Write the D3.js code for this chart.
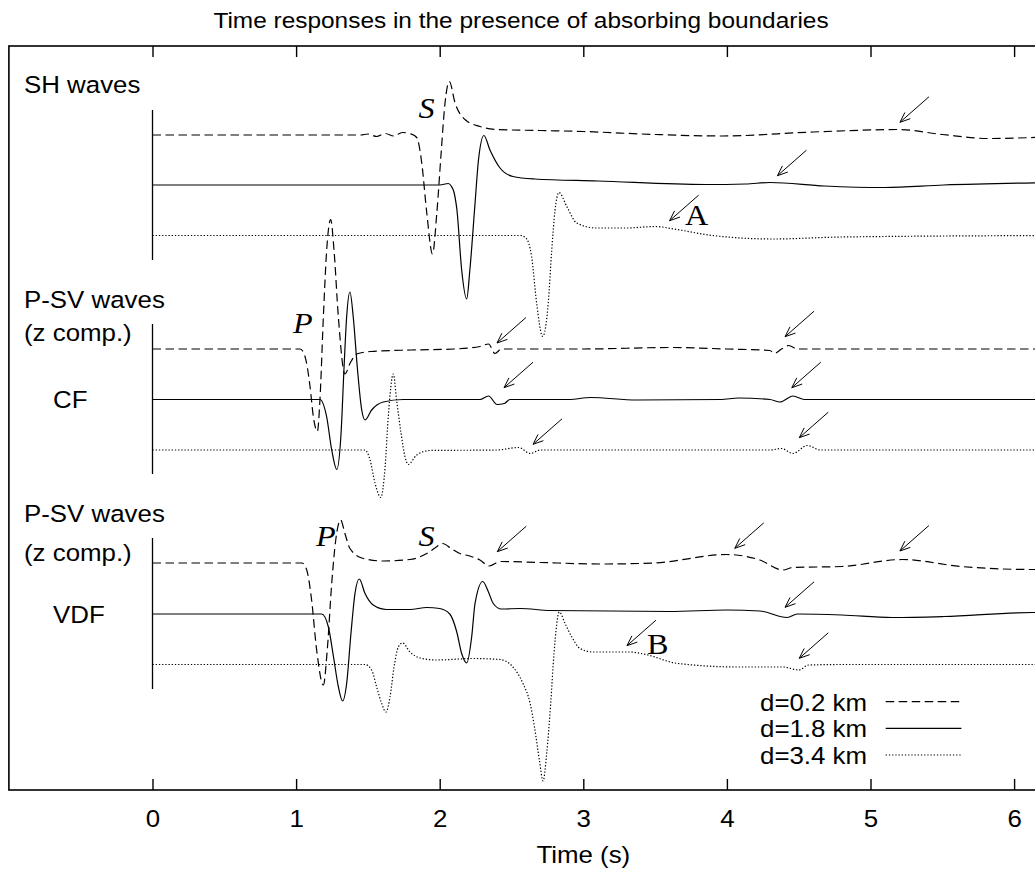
<!DOCTYPE html>
<html><head><meta charset="utf-8">
<script src="https://cdn.jsdelivr.net/npm/d3@7"></script>
<style>body{margin:0;background:#fff}svg{display:block}</style>
</head><body>
<svg id="chart" width="1035" height="873"></svg>
<script>
// ---------------- data ----------------
const chartTitle = "Time responses in the presence of absorbing boundaries";
const xAxisTitle = "Time (s)";
const tickValues = [0, 1, 2, 3, 4, 5, 6];
const seriesLabels = ["d=0.2 km", "d=1.8 km", "d=3.4 km"];

// baseline offsets of the traces (trace units) : [d=0.2, d=1.8, d=3.4]
const shOffsets  = [13.1, 12.1, 11.09];
const cfOffsets  = [8.82, 7.81, 6.8];
const vdfOffsets = [4.54, 3.52, 2.51];

// SH waves  [time (s), amplitude]
const shD02 = [[0,0],[1.45,0],[1.5,0.02],[1.56,-0.03],[1.62,0.03],[1.68,-0.02],[1.74,0.05],[1.8,0.02],[1.84,-0.05],[1.875,-0.56],[1.91,-1.56],[1.95,-2.38],[1.98,-1.56],[2.01,-0.36],[2.037,0.64],[2.067,1.07],[2.107,0.64],[2.18,0.3],[2.28,0.17],[2.4,0.11],[2.7,0.09],[3.0,0.07],[3.5,0.01],[3.97,-0.02],[4.6,0.06],[5.2,0.11],[5.5,0.01],[5.82,-0.07],[6.3,-0.03]];
const shD18 = [[0,0],[2.0,0],[2.06,0.03],[2.08,-0.02],[2.1,-0.15],[2.12,-0.5],[2.153,-1.7],[2.188,-2.28],[2.21,-1.7],[2.246,-0.37],[2.27,0.5],[2.308,0.99],[2.35,0.7],[2.42,0.34],[2.51,0.17],[2.66,0.12],[3.1,0.08],[3.85,0.01],[4.13,0.02],[4.3,0.05],[4.68,-0.02],[5.1,-0.05],[5.51,0.0],[6.3,0.05]];
const shD34 = [[0,0],[2.56,0],[2.6,-0.05],[2.64,-0.42],[2.675,-1.35],[2.717,-2.02],[2.756,-1.35],[2.78,-0.3],[2.803,0.5],[2.83,0.86],[2.885,0.58],[2.954,0.25],[3.09,0.15],[3.3,0.15],[3.5,0.18],[3.65,0.12],[3.9,0.0],[4.32,-0.07],[4.8,-0.03],[6.3,0]];

// P-SV waves, CF
const cfD02 = [[0,0],[1.028,0],[1.062,-0.15],[1.097,-0.75],[1.12,-1.35],[1.148,-1.65],[1.166,-1.02],[1.19,0.65],[1.213,1.98],[1.241,2.59],[1.264,1.98],[1.294,0.65],[1.34,-0.5],[1.375,-0.29],[1.422,-0.1],[1.52,-0.05],[1.8,-0.02],[2.1,0.0],[2.28,0.05],[2.34,0.1],[2.385,-0.09],[2.43,0.0],[3.0,0.0],[3.6,0.03],[4.0,0.0],[4.3,-0.03],[4.33,-0.09],[4.38,0.0],[4.43,0.07],[4.49,0.0],[6.3,0]];
const cfD18 = [[0,0],[1.166,0],[1.213,-0.35],[1.248,-1.01],[1.283,-1.4],[1.313,-0.68],[1.334,0.65],[1.352,1.65],[1.375,2.15],[1.398,1.65],[1.426,0.65],[1.457,-0.21],[1.48,-0.41],[1.526,-0.21],[1.607,-0.05],[1.746,0],[2.28,0],[2.34,0.07],[2.4,-0.1],[2.45,-0.08],[2.49,0],[2.9,0.0],[3.05,0.04],[3.37,-0.01],[3.96,0],[4.08,0.03],[4.3,0.0],[4.37,-0.05],[4.46,0.07],[4.54,0],[6.3,0]];
const cfD34 = [[0,0],[1.48,0],[1.515,-0.2],[1.55,-0.67],[1.59,-0.95],[1.62,-0.33],[1.642,0.67],[1.677,1.52],[1.70,1.0],[1.731,0.33],[1.758,-0.13],[1.781,-0.29],[1.84,-0.1],[1.93,-0.01],[2.4,0],[2.55,0.05],[2.63,-0.07],[2.7,0],[4.3,0.0],[4.38,0.03],[4.46,-0.07],[4.56,0.09],[4.65,0],[6.3,0]];

// P-SV waves, VDF
const vdfD02 = [[0,0],[1.04,0],[1.074,-0.14],[1.108,-0.74],[1.143,-1.74],[1.19,-2.44],[1.217,-1.74],[1.248,-0.41],[1.276,0.46],[1.31,0.86],[1.34,0.59],[1.375,0.29],[1.468,0.09],[1.607,0.04],[1.793,0.07],[1.91,0.19],[1.967,0.3],[2.02,0.39],[2.08,0.29],[2.14,0.19],[2.21,0.14],[2.28,0.06],[2.345,-0.06],[2.42,0.03],[2.7,0.01],[3.13,-0.02],[3.49,0],[4.0,0.17],[4.23,0.06],[4.39,-0.14],[4.46,-0.09],[4.8,-0.07],[5.22,0.07],[5.63,-0.07],[6.13,-0.13],[6.3,-0.13]];
const vdfD18 = [[0,0],[1.178,0],[1.224,-0.25],[1.26,-0.85],[1.294,-1.45],[1.324,-1.74],[1.352,-1.39],[1.382,-0.39],[1.41,0.41],[1.44,0.7],[1.48,0.41],[1.537,0.18],[1.63,0.09],[1.793,0.09],[1.91,0.13],[2.0,0.11],[2.07,0.0],[2.118,-0.35],[2.153,-0.79],[2.188,-0.98],[2.223,-0.45],[2.246,0.21],[2.3,0.65],[2.338,0.45],[2.373,0.21],[2.43,0.1],[2.56,0.11],[2.77,0.07],[3.6,0.05],[4.0,0.08],[4.23,0.06],[4.42,-0.07],[4.49,0.0],[4.8,-0.02],[5.15,-0.07],[5.51,-0.05],[6.13,0.03],[6.3,0.03]];
const vdfD34 = [[0,0],[1.48,0],[1.526,-0.11],[1.561,-0.45],[1.596,-0.78],[1.626,-0.95],[1.654,-0.65],[1.682,-0.05],[1.712,0.35],[1.742,0.43],[1.793,0.25],[1.863,0.13],[1.98,0.09],[2.234,0.12],[2.42,0.1],[2.51,-0.05],[2.58,-0.38],[2.63,-0.78],[2.66,-1.25],[2.694,-1.91],[2.72,-2.33],[2.745,-1.78],[2.773,-0.78],[2.796,0.22],[2.833,1.05],[2.873,0.82],[2.92,0.55],[2.977,0.32],[3.07,0.25],[3.32,0.25],[3.42,0.21],[3.66,0.02],[4.08,-0.05],[4.39,-0.05],[4.5,-0.11],[4.57,-0.01],[4.8,0],[6.3,0]];

// group labels: [text, time, level]
const groupLabels = [["SH waves",-0.895,13.94],["P-SV waves",-0.895,9.64],["(z comp.)",-0.895,8.98],["CF",-0.693,7.64],["P-SV waves",-0.895,5.366],["(z comp.)",-0.895,4.58],["VDF",-0.693,3.34]];
// vertical zero-time bars: [top level, bottom level]
const zeroBars = [[13.6,10.6],[9.32,6.32],[5.04,2.02]];
// arrow tips: [time, level]
const arrowTips = [[5.205,13.354],[4.352,12.286],[3.601,11.386],[2.399,8.94],[4.405,9.066],[2.448,8.046],[4.452,8.046],[2.65,6.914],[4.504,7.046],[2.401,4.766],[4.055,4.834],[5.205,4.78],[4.405,3.654],[3.304,2.886],[4.504,2.634]];
// phase labels: [text, time, level, italic]
const phaseLabels = [["S",1.852,13.44,true],["P",0.978,9.14,true],["P",1.139,4.88,true],["S",1.852,4.88,true],["A",3.709,11.3,false],["B",3.443,2.72,false]];

// ---------------- drawing ----------------
const svg = d3.select("#chart");
const x = d3.scaleLinear().domain([-1, 7]).range([8.9, 8.9 + 8 * 143.6]);
const y = d3.scaleLinear().domain([0, 14.88]).range([790, 46]);
const SANS = "'Liberation Sans', Arial, Helvetica, sans-serif";
const SERIF = "'Liberation Serif', 'Times New Roman', Times, serif";
const STRETCH = 1.11;
const styles = [
  {dash: "8.5,4.5", width: 1.2},
  {dash: null, width: 1.2},
  {dash: "1.3,1.9", width: 1.2}
];

function stretchedText(g, txt, px, py, size, anchor, family, italic) {
  return g.append("text")
    .attr("transform", `translate(${px},${py}) scale(${STRETCH},1)`)
    .attr("text-anchor", anchor)
    .attr("font-family", family)
    .attr("font-size", size)
    .attr("font-style", italic ? "italic" : "normal")
    .attr("fill", "#000")
    .text(txt);
}

// frame
svg.append("rect")
  .attr("x", x(-1)).attr("y", y(14.88))
  .attr("width", x(7) - x(-1)).attr("height", y(0) - y(14.88))
  .attr("fill", "none").attr("stroke", "#000").attr("stroke-width", 1.6);

// axes (ticks inward)
const axB = svg.append("g").attr("transform", `translate(0,${y(0)})`)
  .call(d3.axisBottom(x).tickValues(tickValues).tickSize(-11).tickFormat(d3.format("d")));
axB.select(".domain").remove();
axB.selectAll(".tick line").attr("stroke", "#000").attr("stroke-width", 1.4);
axB.selectAll(".tick text")
  .attr("y", null).attr("dy", null)
  .attr("transform", `translate(0,36.7) scale(${STRETCH},1)`)
  .attr("font-family", SANS).attr("font-size", 23.3).attr("fill", "#000");

const axT = svg.append("g").attr("transform", `translate(0,${y(14.88)})`)
  .call(d3.axisTop(x).tickValues(tickValues).tickSize(-11).tickFormat(""));
axT.select(".domain").remove();
axT.selectAll(".tick line").attr("stroke", "#000").attr("stroke-width", 1.4);

// titles
stretchedText(svg, chartTitle, 521, 28, 22, "middle", SANS, false);
stretchedText(svg, xAxisTitle, x(3), 863, 23.3, "middle", SANS, false);

// zero bars
svg.append("g").selectAll("line").data(zeroBars).join("line")
  .attr("x1", x(0)).attr("x2", x(0))
  .attr("y1", d => y(d[0])).attr("y2", d => y(d[1]))
  .attr("stroke", "#000").attr("stroke-width", 1.3);

// traces
const groups = [
  {offsets: shOffsets, series: [shD02, shD18, shD34]},
  {offsets: cfOffsets, series: [cfD02, cfD18, cfD34]},
  {offsets: vdfOffsets, series: [vdfD02, vdfD18, vdfD34]}
];
const traceG = svg.append("g");
groups.forEach(g => {
  g.series.forEach((s, i) => {
    const line = d3.line()
      .x(d => x(d[0]))
      .y(d => y(g.offsets[i] + d[1]))
      .curve(d3.curveMonotoneX);
    traceG.append("path")
      .attr("d", line(s))
      .attr("fill", "none")
      .attr("stroke", "#000")
      .attr("stroke-width", styles[i].width)
      .attr("stroke-dasharray", styles[i].dash);
  });
});

// group labels
const labG = svg.append("g");
groupLabels.forEach(d => stretchedText(labG, d[0], x(d[1]), y(d[2]), 23.3, "start", SANS, false));

// phase labels
phaseLabels.forEach(d => stretchedText(labG, d[0], x(d[1]), y(d[2]), 29, "start", SERIF, d[3]));

// arrows
const vx = 29, vy = -25.5;
const len = Math.hypot(vx, vy), ux = vx / len, uy = vy / len;
const headLen = 11, headAng = 22 * Math.PI / 180;
function rot(a) { return [ux * Math.cos(a) - uy * Math.sin(a), ux * Math.sin(a) + uy * Math.cos(a)]; }
const h1 = rot(headAng), h2 = rot(-headAng);
const arG = svg.append("g").attr("stroke", "#000").attr("stroke-width", 1).attr("fill", "none");
arrowTips.forEach(d => {
  const tx = x(d[0]), ty = y(d[1]);
  arG.append("path").attr("d",
    `M${tx + vx},${ty + vy}L${tx},${ty}` +
    `M${tx + h1[0] * headLen},${ty + h1[1] * headLen}L${tx},${ty}L${tx + h2[0] * headLen},${ty + h2[1] * headLen}`);
});

// legend
const legG = svg.append("g");
seriesLabels.forEach((lab, i) => {
  const base = 710.7 + i * 26.65;
  stretchedText(legG, lab, 760, base, 23.3, "start", SANS, false);
  legG.append("line")
    .attr("x1", 885.7).attr("x2", 961.4)
    .attr("y1", base - 9).attr("y2", base - 9)
    .attr("stroke", "#000").attr("stroke-width", styles[i].width)
    .attr("stroke-dasharray", styles[i].dash);
});
</script>
</body></html>
